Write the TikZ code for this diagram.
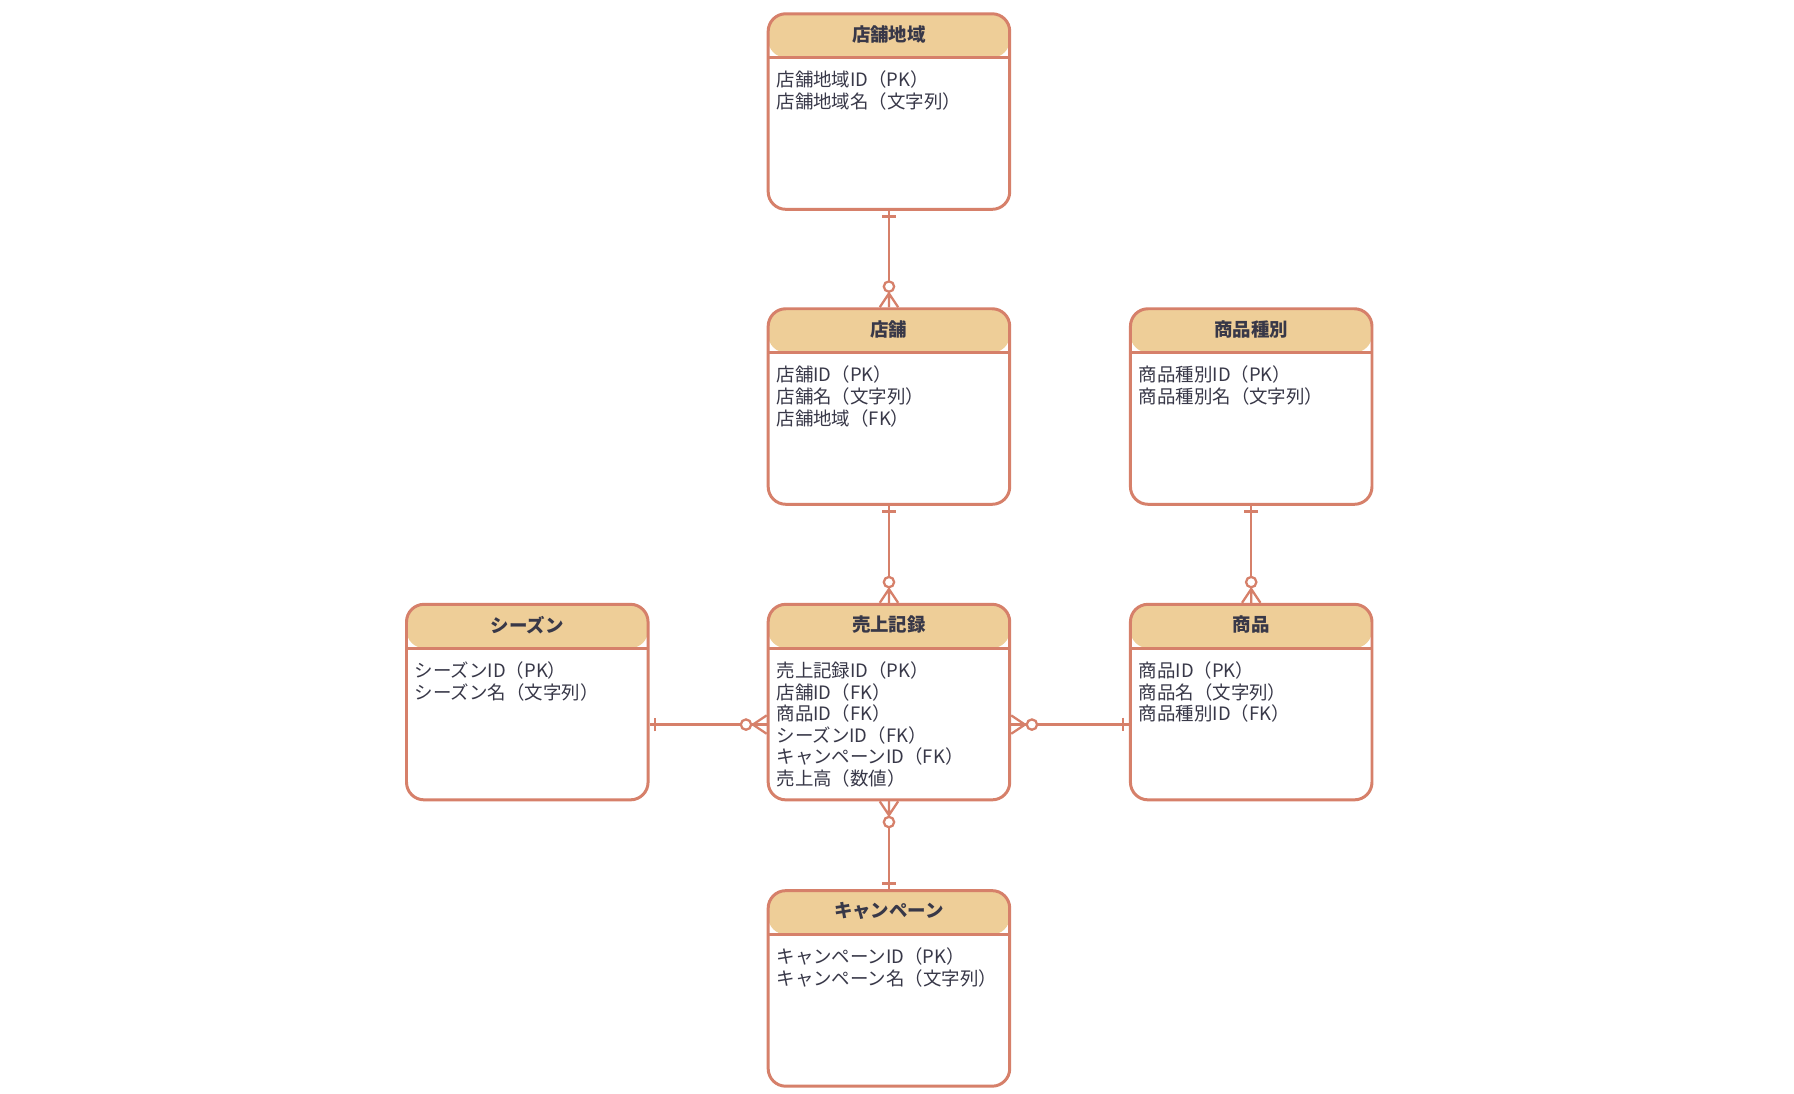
\documentclass[tikz,border=0pt]{standalone}
\usepackage{fontspec}
\setmainfont{Noto Sans CJK JP}
\usetikzlibrary{positioning}
\definecolor{linec}{HTML}{D6806A}
\definecolor{headc}{HTML}{EECE98}
\definecolor{textc}{HTML}{383848}
\tikzset{
  entity/.style={draw=linec, line width=1.7pt, rounded corners=10pt, fill=white,
    minimum width=4.83cm, minimum height=3.91cm, inner sep=0pt,
    path picture={\fill[headc] (path picture bounding box.north west) rectangle
      ([yshift=-0.874cm]path picture bounding box.north east);
      \draw[linec, line width=1.7pt] ([yshift=-0.874cm]path picture bounding box.north west) --
      ([yshift=-0.874cm]path picture bounding box.north east);}},
  title/.style={font=\bfseries\fontsize{10.5}{12}\selectfont, text=textc},
  attrs/.style={font=\fontsize{10.5}{12.3}\selectfont, text=textc, align=left, anchor=north west, inner sep=0pt},
  rel/.style={draw=linec, line width=1.3pt}
}
% one-bar and zero-or-many marks, local x points away from the box
\newcommand{\onebar}[2]{\draw[rel, shift={(#1)}, rotate=#2] (5,-6) -- (5,6);}
\newcommand{\zeromany}[2]{\begin{scope}[shift={(#1)}, rotate=#2]
  \draw[rel, fill=white] (18,0) circle (4.5);
  \draw[rel] (0,-8) -- (12,0) -- (0,8) (0,0) -- (12,0);
\end{scope}}
\newcommand{\entity}[5]{% name, x, y, title, attributes
  \node[entity] (#1) at (#2,#3) {};
  \node[title] (#1-t) at ([yshift=-0.437cm]#1.north) {#4};
  \node[attrs] (#1-a) at ([xshift=0.19cm, yshift=-1.17cm]#1.north west) {#5};
}
\begin{document}
\begin{tikzpicture}[x=0.023cm, y=0.023cm]
\useasboundingbox (0,0) rectangle (1560,-951);

\entity{region}{773}{-97}{店舗地域}{店舗地域ID（PK）\\店舗地域名（文字列）}
\entity{store}{773}{-353.5}{店舗}{店舗ID（PK）\\店舗名（文字列）\\店舗地域（FK）}
\entity{ptype}{1088}{-353.5}{商品種別}{商品種別ID（PK）\\商品種別名（文字列）}
\entity{season}{458.5}{-610.5}{シーズン}{シーズンID（PK）\\シーズン名（文字列）}
\entity{sales}{773}{-610.5}{売上記録}{売上記録ID（PK）\\店舗ID（FK）\\商品ID（FK）\\シーズンID（FK）\\キャンペーンID（FK）\\売上高（数値）}
\entity{product}{1088}{-610.5}{商品}{商品ID（PK）\\商品名（文字列）\\商品種別ID（FK）}
\entity{campaign}{773}{-859.5}{キャンペーン}{キャンペーンID（PK）\\キャンペーン名（文字列）}

\coordinate (season-r) at ([yshift=-0.45cm]season.east);
\coordinate (sales-l) at ([yshift=-0.45cm]sales.west);
\coordinate (sales-r) at ([yshift=-0.45cm]sales.east);
\coordinate (product-l) at ([yshift=-0.45cm]product.west);

\draw[rel] (region.south) -- (store.north);
\onebar{region.south}{-90} \zeromany{store.north}{90}
\draw[rel] (store.south) -- (sales.north);
\onebar{store.south}{-90} \zeromany{sales.north}{90}
\draw[rel] (ptype.south) -- (product.north);
\onebar{ptype.south}{-90} \zeromany{product.north}{90}
\draw[rel] (season-r) -- (sales-l);
\onebar{season-r}{0} \zeromany{sales-l}{180}
\draw[rel] (product-l) -- (sales-r);
\onebar{product-l}{180} \zeromany{sales-r}{0}
\draw[rel] (sales.south) -- (campaign.north);
\zeromany{sales.south}{-90} \onebar{campaign.north}{90}
\end{tikzpicture}
\end{document}
